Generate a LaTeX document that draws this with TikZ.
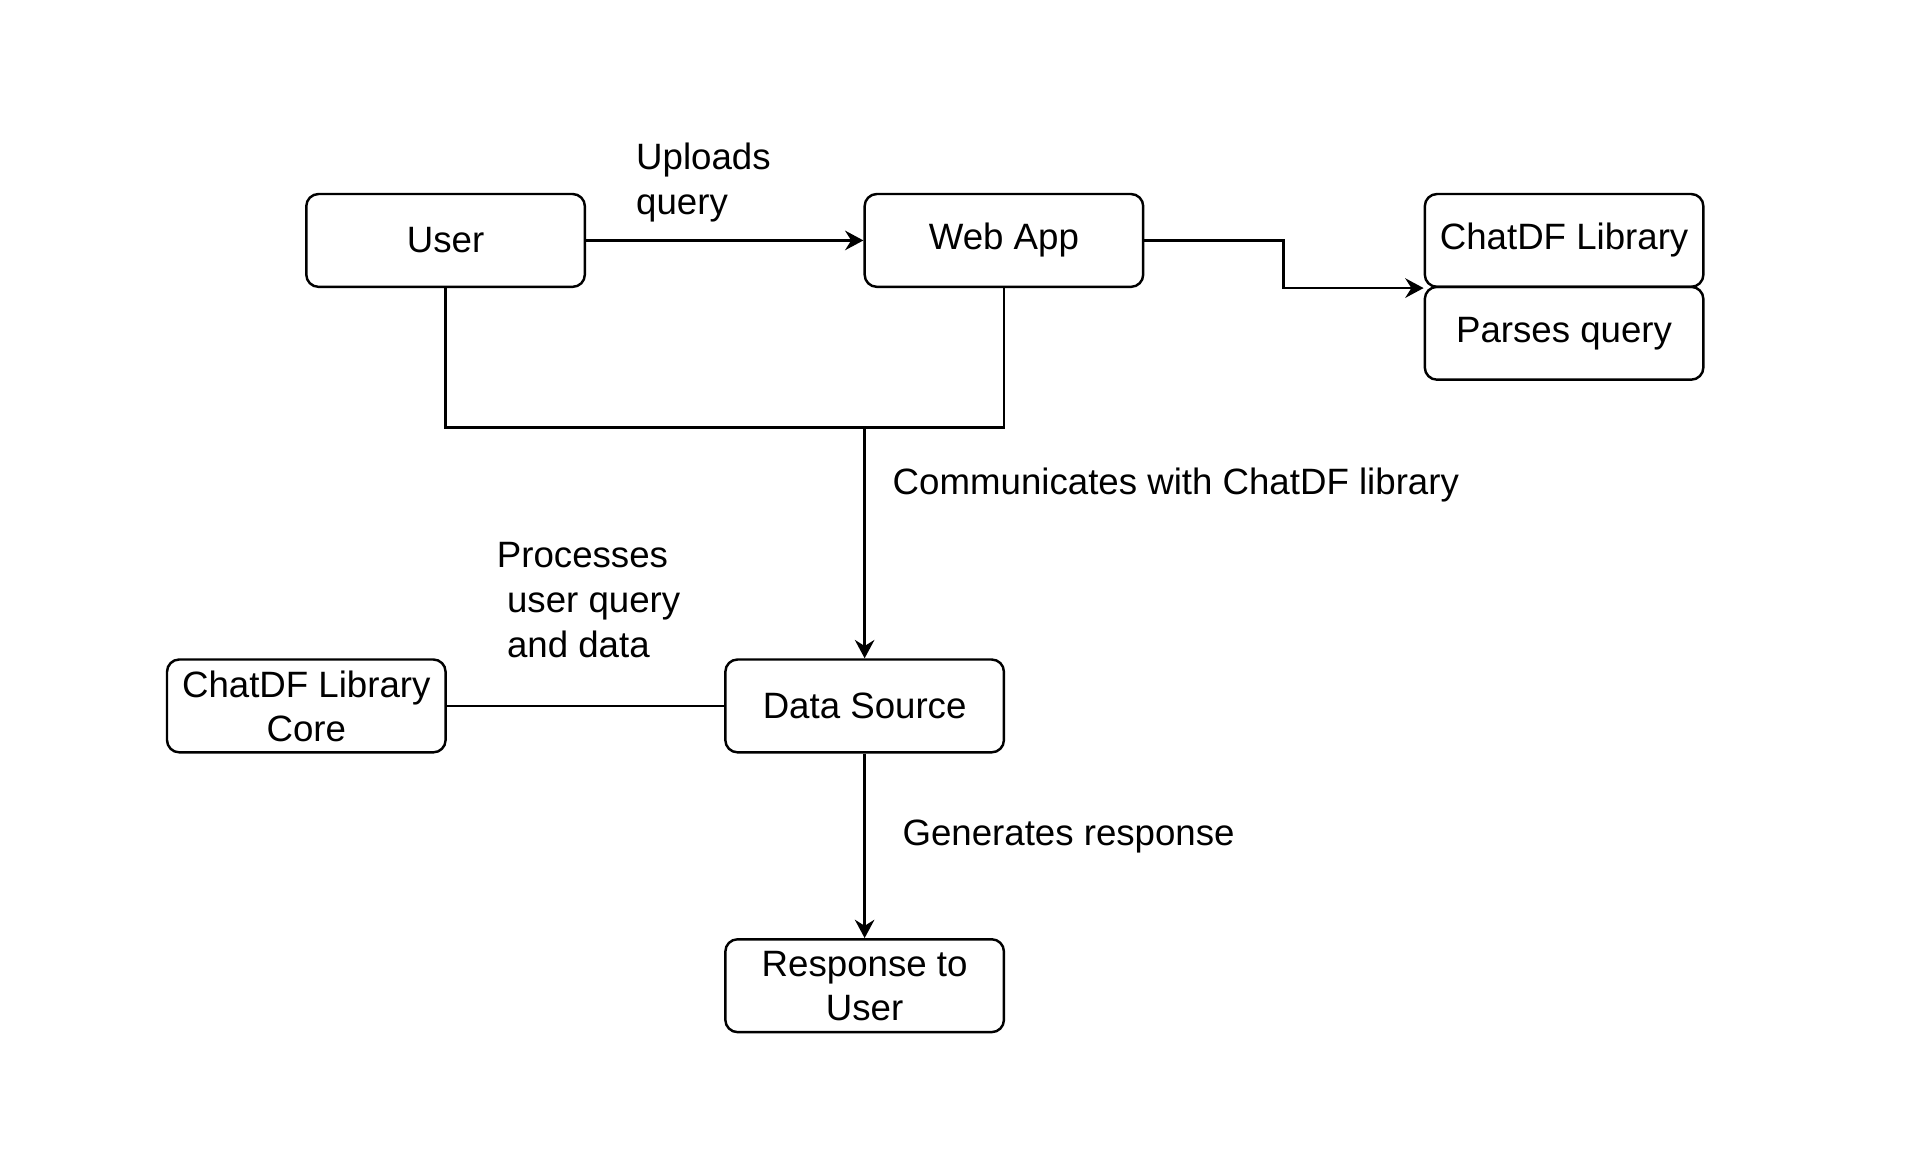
\documentclass[tikz,border=0pt]{standalone}
\usepackage{fontspec}
\setmainfont{Liberation Sans}
\usetikzlibrary{arrows.meta}
\begin{document}
\begin{tikzpicture}[x=1pt,y=1pt,node distance=457pt,line width=2pt,>={Stealth[length=15pt,width=16pt,inset=5pt]},main node/.style={rectangle,draw,rounded corners=10pt,minimum width=228pt,minimum height=76pt,align=center,font=\fontsize{30}{36}\selectfont},text node/.style={inner sep=0pt,anchor=west,align=left,font=\fontsize{30}{37}\selectfont}]
                \useasboundingbox (1.3,-9.3) rectangle (1567.9,943.8);
                \node[main node] (user) at (366,747) {User};
                \node[main node] (webapp) [right of=user] {Web App};
                \node[main node] (lib) at (1281.5,747) {ChatDF Library};
                \node[main node,node distance=76pt] (parse) [below of=lib] {Parses query};
                \node[main node] (data) at (709,366) {Data Source};
                \node[main node] (core) at (252,366) {ChatDF Library\\Core};
                \node[main node] (resp) at (709,137) {Response to\\User};
                \coordinate (join) at (709,595);

                \node[text node] (upl) at (521,794.5) {Uploads\\query};
                \node[text node] (comm) at (731,547) {Communicates with ChatDF library};
                \node[text node] (proc) at (407,452.5) {Processes\\~user query\\~and data};
                \node[text node] (gen) at (739,259) {Generates response};

                \draw[->] (user) -- (webapp);
                \draw[->] (webapp.east) -- ++(114,0) |- (lib.south west);
                \draw (user.south) -- ++(0,-114) -| (webapp.south);
                \draw[->] (join) -- (data);
                \draw (core) -- (data);
                \draw[->] (data) -- (resp);
            \end{tikzpicture}
\end{document}
